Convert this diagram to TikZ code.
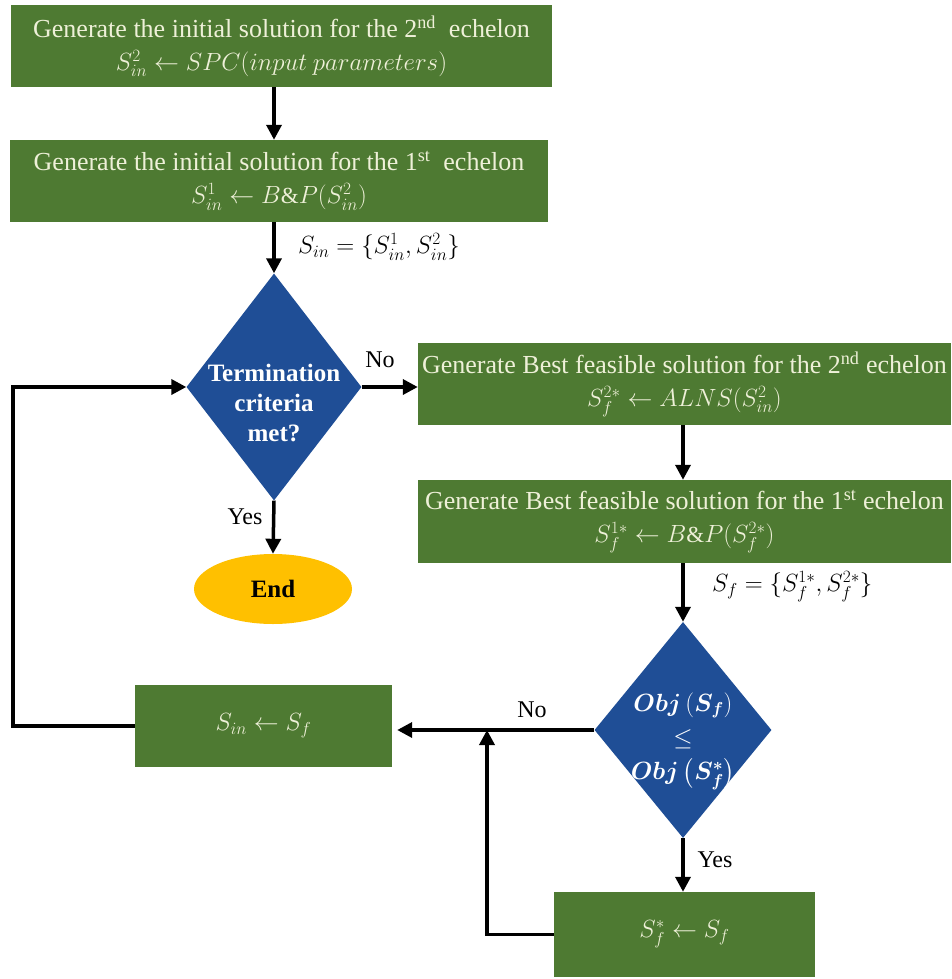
\documentclass[tikz,border=0pt]{standalone}
\usepackage{fontspec}
\setmainfont{Liberation Serif}
\usepackage{amsmath,bm}
\usetikzlibrary{shapes.geometric,arrows.meta,calc}
\definecolor{boxgreen}{HTML}{4E7A32}
\definecolor{boxtext}{HTML}{EEF0D8}
\definecolor{dblue}{HTML}{1F4E96}
\definecolor{endorange}{HTML}{FFC000}
\newcommand\mathln[1]{{\fontsize{23}{33}\selectfont #1}}
\begin{document}
\begin{tikzpicture}[x=1pt,y=-1pt,
  gbox/.style={rectangle,fill=boxgreen,text=boxtext,align=center,inner sep=0pt,
    font=\fontsize{26}{33}\selectfont},
  dia/.style={diamond,fill=dblue,inner sep=0pt,aspect=0.77},
  arr/.style={line width=3.5pt,-{Triangle[length=15pt,width=15pt]}},
  lbl/.style={font=\fontsize{24}{28}\selectfont,text=black,inner sep=0pt}]
\useasboundingbox (0,0) rectangle (951,979);

\node[gbox,minimum width=541pt,minimum height=82pt] (b1) at (281.5,46)
  {Generate the initial solution for the 2\textsuperscript{nd}\ \ echelon\\
   \mathln{$S_{in}^{2}\leftarrow SPC(input\ parameters)$}};
\node[gbox,minimum width=538pt,minimum height=82pt] (b2) at (279,181)
  {Generate the initial solution for the 1\textsuperscript{st}\ \ echelon\\
   \mathln{$S_{in}^{1}\leftarrow B\&P(S_{in}^{2})$}};

\node[dia,minimum width=175pt,minimum height=227pt,
  label={[text=white,align=center,yshift=-16pt,font=\bfseries\fontsize{25}{30}\selectfont]center:Termination\\criteria\\met?}] (d1) at (274,387) {};

\node[gbox,minimum width=533pt,minimum height=82pt] (b3) at (684.5,384)
  {Generate Best\ feasible\ solution for the 2\textsuperscript{nd} echelon\\
   \mathln{$S_{f}^{2*}\leftarrow ALNS(S_{in}^{2})$}};
\node[gbox,minimum width=533pt,minimum height=83pt] (b4) at (684.5,521.5)
  {Generate Best\ feasible\ solution for the 1\textsuperscript{st} echelon\\
   \mathln{$S_{f}^{1*}\leftarrow B\&P(S_{f}^{2*})$}};

\node[ellipse,fill=endorange,minimum width=158pt,minimum height=70pt,inner sep=0pt,
  font=\bfseries\fontsize{25}{28}\selectfont] (e) at (273,589) {End};

\node[dia,minimum width=177pt,minimum height=216pt,
  label={[text=white,align=center,yshift=-11pt,font=\fontsize{27}{34}\selectfont]center:$\bm{Obj\left(S_f\right)}$\\$\leq$\\$\bm{Obj\left(S_f^{*}\right)}$}] (d2) at (683,730) {};

\node[gbox,minimum width=257pt,minimum height=82pt] (b5) at (263.5,726)
  {\mathln{$S_{in}\leftarrow S_f$}};
\node[gbox,minimum width=261pt,minimum height=85pt] (b6) at (684.5,934.5)
  {\mathln{$S_f^{*}\leftarrow S_f$}};

% connectors
\draw[arr] (b1.south -| d1.north) -- (b2.north -| d1.north);
\draw[arr] (b2.south -| d1.north) -- (d1.north);
\draw[arr] (d1.east) -- (b3.west |- d1.east);
\draw[arr] (d1.south) -- (e.north);
\draw[arr] (b3.south -| d2.north) -- (b4.north -| d2.north);
\draw[arr] (b4.south -| d2.north) -- (d2.north);
\draw[arr] (d2.south) -- (b6.north -| d2.south);
\draw[arr] (d2.west) -- ($(b5.east |- d2.west)+(5,0)$);
\coordinate (j) at (487,730);
\draw[arr] (b6.west) -| (j);
\coordinate (lp) at (13,726);
\draw[arr] (b5.west) -- (lp) |- (d1.west);

% labels
\node[lbl,anchor=west] (l1) at (298,247) {$S_{in}=\{S_{in}^{1},S_{in}^{2}\}$};
\node[lbl] (l2) at (380,360) {No};
\node[lbl] (l3) at (245,517) {Yes};
\node[lbl,anchor=west] (l4) at (712,587) {$S_{f}=\{S_{f}^{1*},S_{f}^{2*}\}$};
\node[lbl] (l5) at (532,710) {No};
\node[lbl] (l6) at (715,860) {Yes};
\end{tikzpicture}
\end{document}
